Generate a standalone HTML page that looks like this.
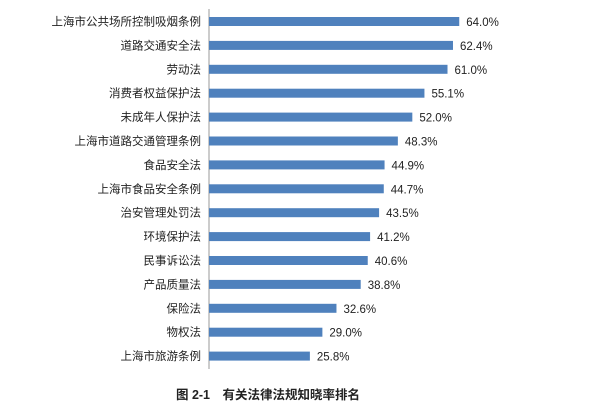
<!DOCTYPE html>
<html><head><meta charset="utf-8"><style>
body{margin:0;background:#fff;width:600px;height:412px;overflow:hidden}
svg text{font-family:"Liberation Sans","Noto Sans CJK SC",sans-serif;fill:#222}
</style></head><body>
<svg id="chart" width="600" height="412">
<line x1="209" y1="9" x2="209" y2="369" stroke="#999" stroke-width="1"/>
<g id="bars"></g>
<text x="268" y="399" text-anchor="middle" font-size="12.5" font-weight="bold">图 2-1　有关法律法规知晓率排名</text>
</svg>
<script>
const categories=["上海市公共场所控制吸烟条例","道路交通安全法","劳动法","消费者权益保护法","未成年人保护法","上海市道路交通管理条例","食品安全法","上海市食品安全条例","治安管理处罚法","环境保护法","民事诉讼法","产品质量法","保险法","物权法","上海市旅游条例"];
const values=[64.0,62.4,61.0,55.1,52.0,48.3,44.9,44.7,43.5,41.2,40.6,38.8,32.6,29.0,25.8];
const x0=209,scale=3.91,y0=21.5,step=23.9,bh=9;
const xs=v=>x0+v*scale, ys=i=>y0+i*step;
const g=document.getElementById('bars'),NS="http://www.w3.org/2000/svg";
categories.forEach((c,i)=>{
 const r=document.createElementNS(NS,'rect');
 r.setAttribute('x',x0);r.setAttribute('y',ys(i)-bh/2);
 r.setAttribute('width',xs(values[i])-x0);r.setAttribute('height',bh);r.setAttribute('fill','#4f81bd');
 
 
 g.appendChild(r);
 const t=document.createElementNS(NS,'text');
 t.setAttribute('x',201);t.setAttribute('y',ys(i)+4);t.setAttribute('text-anchor','end');t.setAttribute('font-size','11.5');
 t.textContent=c;
 
 
 g.appendChild(t);
 const v=document.createElementNS(NS,'text');
 v.setAttribute('x',xs(values[i])+7);v.setAttribute('y',ys(i)+4.5);v.setAttribute('font-size','11.5');
 v.textContent=values[i].toFixed(1)+'%';
 
 
 g.appendChild(v);
});
</script>
</body></html>
